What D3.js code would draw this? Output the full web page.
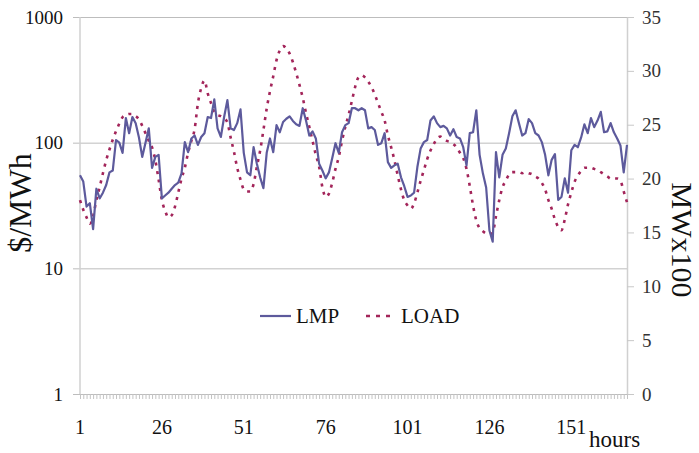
<!DOCTYPE html>
<html>
<head>
<meta charset="utf-8">
<script src="https://cdn.jsdelivr.net/npm/d3@7"></script>
<style>
  body { margin: 0; background: #fff; }
</style>
</head>
<body>
<svg id="chart" width="699" height="453"></svg>
<script>
// hourly LMP ($/MWh), hours 1..168
const lmp = [55, 49, 31, 33, 20.5, 43, 36, 40, 46, 58,
  60, 105, 100, 83, 157, 119, 160, 143, 110, 77,
  100, 130, 63, 77, 80, 36, 38, 40, 43, 46,
  48, 57, 101, 84, 108, 114, 96, 111, 119, 160,
  157, 221, 130, 111, 160, 218, 130, 126, 143, 184,
  83, 58, 55, 92, 68, 53, 43.5, 83, 108, 84,
  138, 121, 146, 155, 162, 149, 140, 136, 188, 150,
  114, 123, 108, 68, 60, 52, 58, 75, 99, 83,
  121, 138, 143, 188, 188, 181, 188, 181, 130, 133,
  126, 96, 99, 119, 70, 63, 66, 68, 53, 45,
  37, 38, 40, 64, 90, 101, 105, 150, 162, 143,
  133, 136, 130, 114, 128, 111, 108, 92, 66, 119,
  121, 181, 80, 57, 44, 20, 16.3, 84, 53, 80,
  90, 119, 162, 181, 143, 114, 119, 154, 143, 119,
  114, 101, 80, 55, 73, 81, 35, 37, 52, 40,
  87, 96, 92, 110, 140, 119, 157, 133, 150, 176,
  121, 123, 143, 121, 108, 95, 58, 96];

// hourly load (MW x100)
const load = [18.0, 17.1, 16.4, 15.8, 16.5, 18.0, 19.2, 20.5, 21.7, 22.7,
  23.6, 24.4, 25.1, 25.7, 25.9, 26.0, 26.0, 25.8, 25.5, 24.9,
  24.2, 23.5, 22.9, 21.7, 19.9, 18.0, 17.0, 16.4, 16.6, 17.4,
  18.7, 20.0, 21.0, 22.4, 23.5, 24.6, 27.0, 28.4, 29.1, 27.9,
  27.0, 26.2, 25.9, 25.8, 25.6, 25.2, 23.8, 22.5, 21.0, 19.9,
  19.0, 18.8, 18.8, 19.5, 21.1, 22.6, 24.5, 26.5, 28.1, 29.5,
  31.0, 31.9, 32.3, 32.1, 31.6, 30.8, 29.8, 28.7, 27.5, 26.1,
  24.8, 23.5, 22.2, 21.1, 19.2, 18.3, 18.6, 19.6, 20.9, 22.0,
  23.5, 24.8, 25.9, 27.2, 28.5, 29.4, 29.6, 29.4, 29.0, 28.5,
  27.8, 27.0, 26.2, 25.4, 24.0, 22.9, 21.7, 20.3, 19.0, 18.0,
  17.5, 17.2, 17.7, 18.7, 19.8, 20.8, 21.8, 22.6, 23.2, 23.7,
  23.9, 23.7, 23.5, 23.4, 23.2, 22.9, 22.4, 21.9, 20.9, 19.3,
  17.5, 16.1, 15.4, 15.1, 14.9, 14.8, 15.0, 16.5, 18.0, 19.2,
  19.8, 20.4, 20.6, 20.6, 20.6, 20.5, 20.6, 20.5, 20.4, 20.2,
  20.0, 19.6, 19.0, 18.0, 17.2, 16.2, 15.5, 15.2, 16.2, 17.6,
  18.7, 19.7, 20.3, 20.7, 21.0, 21.0, 21.0, 20.9, 20.8, 20.6,
  20.4, 20.2, 20.0, 20.0, 20.0, 19.8, 18.8, 17.8];

const hours = d3.range(1, lmp.length + 1);
const xLabels = [1, 26, 51, 76, 101, 126, 151];
const leftTicks = [1, 10, 100, 1000];
const rightTicks = [0, 5, 10, 15, 20, 25, 30, 35];

const serif = '"Liberation Serif"';
const svg = d3.select("#chart");
const plotLeft = 80, plotRight = 627, plotTop = 17, plotBottom = 394;

const x = d3.scaleLinear().domain([1, 168]).range([plotLeft, plotRight]);
const y = d3.scaleLog().domain([1, 1000]).range([plotBottom, plotTop]);
const yR = d3.scaleLinear().domain([0, 35]).range([plotBottom, plotTop]);

// gridlines (left axis)
svg.append("g")
    .attr("transform", `translate(${plotLeft},0)`)
    .call(d3.axisLeft(y).tickValues(leftTicks).tickSize(7).tickFormat(d3.format("d")))
    .call(g => g.select(".domain").remove())
    .call(g => g.selectAll(".tick line").clone()
        .attr("x1", 0).attr("x2", plotRight - plotLeft))
    .call(g => g.selectAll("line").attr("stroke", "#bdbdbd"))
    .call(g => g.selectAll("text")
        .attr("x", -17)
        .style("font-family", serif)
        .style("font-size", "19px")
        .attr("fill", "#111"));

// left and right axis lines
svg.append("line")
    .attr("x1", plotLeft).attr("x2", plotLeft).attr("y1", plotTop).attr("y2", plotBottom)
    .attr("stroke", "#d0d0d0").attr("stroke-width", 1.5);

svg.append("g")
    .attr("transform", `translate(${plotRight},0)`)
    .call(d3.axisRight(yR).tickValues(rightTicks).tickSize(7).tickSizeOuter(0))
    .call(g => g.selectAll("line").attr("stroke", "#c8c8c8"))
    .call(g => g.select(".domain").attr("stroke", "#d0d0d0").attr("stroke-width", 1.5))
    .call(g => g.selectAll("text")
        .attr("x", 15)
        .style("font-family", serif)
        .style("font-size", "19px")
        .attr("fill", "#333"));

// x axis: a small tick every hour
svg.append("g")
    .attr("transform", `translate(0,${plotBottom})`)
    .call(d3.axisBottom(x).tickValues(hours).tickSize(5).tickFormat(""))
    .call(g => g.select(".domain").attr("stroke", "#bdbdbd"))
    .call(g => g.selectAll(".tick line").attr("stroke", "#c4c4c4"));

svg.append("g")
    .selectAll("text")
    .data(xLabels)
    .join("text")
    .attr("x", d => x(d))
    .attr("y", 434)
    .attr("text-anchor", "middle")
    .style("font-family", serif)
    .style("font-size", "20px")
    .attr("fill", "#111")
    .text(d => d);

// series
const lineL = d3.line().x((d, i) => x(hours[i])).y(d => y(d));
const lineR = d3.line().x((d, i) => x(hours[i])).y(d => yR(d)).curve(d3.curveMonotoneX);

svg.append("path")
    .datum(load)
    .attr("d", lineR)
    .attr("fill", "none")
    .attr("stroke", "#a3255a")
    .attr("stroke-width", 2.6)
    .attr("stroke-dasharray", "3,5.5");

svg.append("path")
    .datum(lmp)
    .attr("d", lineL)
    .attr("fill", "none")
    .attr("stroke", "#5d5a9c")
    .attr("stroke-width", 2.2)
    .attr("stroke-linejoin", "round");

// axis titles
svg.append("text")
    .attr("transform", "translate(31,203) rotate(-90)")
    .attr("text-anchor", "middle")
    .style("font-family", serif)
    .style("font-size", "32px")
    .attr("fill", "#111")
    .text("$/MWh");

svg.append("text")
    .attr("transform", "translate(672,240) rotate(90)")
    .attr("text-anchor", "middle")
    .style("font-family", serif)
    .style("font-size", "30px")
    .attr("fill", "#111")
    .text("MWx100");

svg.append("text")
    .attr("x", 589)
    .attr("y", 447)
    .style("font-family", serif)
    .style("font-size", "23px")
    .attr("fill", "#111")
    .text("hours");

// legend
const legend = svg.append("g");
legend.append("line")
    .attr("x1", 260).attr("x2", 291).attr("y1", 316).attr("y2", 316)
    .attr("stroke", "#5d5a9c").attr("stroke-width", 2.2);
legend.append("text")
    .attr("x", 296).attr("y", 323)
    .style("font-family", serif)
    .style("font-size", "21px")
    .attr("fill", "#111")
    .text("LMP");
legend.append("line")
    .attr("x1", 366).attr("x2", 392).attr("y1", 316).attr("y2", 316)
    .attr("stroke", "#a3255a").attr("stroke-width", 2.6)
    .attr("stroke-dasharray", "4,6");
legend.append("text")
    .attr("x", 401).attr("y", 323)
    .style("font-family", serif)
    .style("font-size", "21px")
    .attr("fill", "#111")
    .text("LOAD");
</script>
</body>
</html>
